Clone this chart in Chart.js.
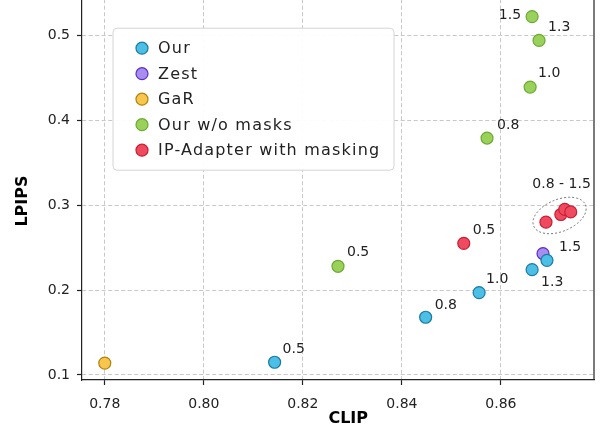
<!DOCTYPE html>
<html>
<head>
<meta charset="utf-8">
<script src="https://cdn.jsdelivr.net/npm/chart.js@4.4.0/dist/chart.umd.min.js"></script>
<style>
  html, body { margin: 0; padding: 0; background: #fff; }
  #wrap { width: 605px; height: 433px; overflow: hidden; }
  #chart { display: block; margin-top: -8px; }
</style>
</head>
<body>
<div id="wrap"><canvas id="chart" width="605" height="441"></canvas></div>
<script>
// tick labels
const xTicks = [0.78, 0.80, 0.82, 0.84, 0.86];
const yTicks = [0.1, 0.2, 0.3, 0.4, 0.5];

// series values (CLIP, LPIPS) and guidance scale labels
const ourClip = [0.8143, 0.8448, 0.8556, 0.8663, 0.8693];
const ourLpips = [0.115, 0.168, 0.197, 0.224, 0.235];
const ourLabels = ['0.5', '0.8', '1.0', '1.3', '1.5'];

const zestClip = [0.8685];
const zestLpips = [0.243];

const garClip = [0.780];
const garLpips = [0.114];

const noMaskClip = [0.8271, 0.8572, 0.8659, 0.8677, 0.8663];
const noMaskLpips = [0.228, 0.379, 0.439, 0.494, 0.522];
const noMaskLabels = ['0.5', '0.8', '1.0', '1.3', '1.5'];

const ipClip = [0.8525, 0.8691, 0.8721, 0.8729, 0.8741];
const ipLpips = [0.255, 0.280, 0.289, 0.295, 0.292];
const ipLabels = ['0.5'];
const ipClusterLabel = '0.8 - 1.5';

const seriesNames = ['Our', 'Zest', 'GaR', 'Our w/o masks', 'IP-Adapter with masking'];
const xTitle = 'CLIP';
const yTitle = 'LPIPS';

// label placement (pixel offsets, [dx, dy, align])
const ourOffsets = [[8, -13, 'left'], [9, -12, 'left'], [7, -13, 'left'], [9, 13, 'left'], [12, -13, 'left']];
const noMaskOffsets = [[9, -14, 'left'], [10, -13, 'left'], [8, -14, 'left'], [9, -13, 'left'], [-11, -1, 'right']];
const ipOffsets = [[9, -13, 'left']];

const FONT = '"DejaVu Sans", sans-serif';

const colors = [
  { fill: '#4cbfe6', border: '#1d7aa1' },  // blue
  { fill: '#a88cf0', border: '#5a30c8' },  // purple
  { fill: '#f8c64c', border: '#b0820e' },  // yellow
  { fill: '#99d15b', border: '#6caa34' },  // green
  { fill: '#f04a5f', border: '#c61f37' }   // red
];

const toPoints = (xs, ys) => xs.map((x, i) => ({ x: x, y: ys[i] }));

const pointSets = [
  toPoints(ourClip, ourLpips),
  toPoints(zestClip, zestLpips),
  toPoints(garClip, garLpips),
  toPoints(noMaskClip, noMaskLpips),
  toPoints(ipClip, ipLpips)
];

const labelSets = [
  { labels: ourLabels, offsets: ourOffsets },
  null,
  null,
  { labels: noMaskLabels, offsets: noMaskOffsets },
  { labels: ipLabels, offsets: ipOffsets }
];

// point labels, ellipse round the IP-Adapter cluster, legend, spine, axis titles
const annotations = {
  id: 'annotations',
  afterDatasetsDraw(chart) {
    const ctx = chart.ctx;
    const area = chart.chartArea;

    ctx.save();
    ctx.font = '14px ' + FONT;
    ctx.fillStyle = '#222';
    ctx.textBaseline = 'middle';
    labelSets.forEach((set, di) => {
      if (!set) return;
      const meta = chart.getDatasetMeta(di);
      set.labels.forEach((txt, i) => {
        const el = meta.data[i];
        const off = set.offsets[i];
        ctx.textAlign = off[2];
        ctx.fillText(txt, el.x + off[0], el.y + off[1]);
      });
    });

    // cluster ellipse
    const ipMeta = chart.getDatasetMeta(4);
    const cluster = ipMeta.data.slice(1);
    const cx = cluster.reduce((s, p) => s + p.x, 0) / cluster.length;
    const cy = cluster.reduce((s, p) => s + p.y, 0) / cluster.length;
    const first = cluster[0], last = cluster[cluster.length - 1];
    const ang = Math.atan2(last.y - first.y, last.x - first.x);
    ctx.beginPath();
    ctx.setLineDash([2, 2]);
    ctx.strokeStyle = '#555';
    ctx.lineWidth = 0.8;
    ctx.ellipse(cx - 1, cy + 1, 28, 16, ang, 0, Math.PI * 2);
    ctx.stroke();
    ctx.setLineDash([]);
    ctx.textAlign = 'center';
    ctx.fillText(ipClusterLabel, cx + 1, cy - 30);

    // right spine
    ctx.beginPath();
    ctx.strokeStyle = '#222';
    ctx.lineWidth = 1.2;
    ctx.moveTo(area.right, area.top);
    ctx.lineTo(area.right, area.bottom);
    ctx.stroke();

    // axis titles
    ctx.fillStyle = '#000';
    ctx.font = 'bold 16px ' + FONT;
    ctx.textAlign = 'center';
    ctx.fillText(xTitle, area.left + (area.right - area.left) * 0.52, area.bottom + 39);
    ctx.save();
    ctx.translate(area.left - 59, area.top + (area.bottom - area.top) * 0.53);
    ctx.rotate(-Math.PI / 2);
    ctx.fillText(yTitle, 0, 0);
    ctx.restore();

    // legend
    const lx = area.left + 31, ly = area.top + 29, lw = 281, lh = 142;
    ctx.beginPath();
    ctx.roundRect(lx, ly, lw, lh, 4);
    ctx.fillStyle = 'rgba(255,255,255,0.95)';
    ctx.fill();
    ctx.strokeStyle = '#d4d4d4';
    ctx.lineWidth = 1;
    ctx.stroke();
    ctx.font = '16px ' + FONT;
    ctx.letterSpacing = '1.2px';
    ctx.textAlign = 'left';
    seriesNames.forEach((name, i) => {
      const y = ly + 20 + i * 25.5;
      ctx.beginPath();
      ctx.arc(lx + 29, y, 6, 0, Math.PI * 2);
      ctx.fillStyle = colors[i].fill;
      ctx.fill();
      ctx.strokeStyle = colors[i].border;
      ctx.lineWidth = 1.2;
      ctx.stroke();
      ctx.fillStyle = '#222';
      ctx.fillText(name, lx + 45, y + 1);
    });
    ctx.restore();
  }
};

const gridOpts = {
  color: '#c8c8c8',
  lineWidth: 1,
  tickColor: '#222',
  tickLength: 5,
  tickWidth: 1.2,
  tickBorderDash: []
};

new Chart(document.getElementById('chart'), {
  type: 'scatter',
  data: {
    datasets: pointSets.map((pts, i) => ({
      label: seriesNames[i],
      data: pts,
      backgroundColor: colors[i].fill,
      borderColor: colors[i].border,
      borderWidth: 1.2,
      pointRadius: 6,
      pointHoverRadius: 6
    }))
  },
  options: {
    responsive: false,
    animation: false,
    layout: { padding: { left: 0, right: 11, top: 0, bottom: 0 } },
    plugins: {
      legend: { display: false },
      tooltip: { enabled: false }
    },
    scales: {
      x: {
        type: 'linear',
        min: 0.7754,
        max: 0.8788,
        afterBuildTicks: (axis) => { axis.ticks = xTicks.map(v => ({ value: v })); },
        afterFit: (axis) => { axis.height = 53; },
        ticks: {
          color: '#222',
          font: { family: FONT, size: 14 },
          padding: 11,
          callback: (v) => v.toFixed(2)
        },
        grid: gridOpts,
        border: { display: true, color: '#222', width: 1.2, dash: [4, 2.5] }
      },
      y: {
        type: 'linear',
        min: 0.0941,
        max: 0.5425,
        afterBuildTicks: (axis) => { axis.ticks = yTicks.map(v => ({ value: v })); },
        afterFit: (axis) => { axis.width = 82; axis.paddingTop = 0; },
        ticks: {
          color: '#222',
          font: { family: FONT, size: 14 },
          padding: 7,
          callback: (v) => v.toFixed(1)
        },
        grid: gridOpts,
        border: { display: true, color: '#222', width: 1.2, dash: [4, 2.5] }
      }
    }
  },
  plugins: [annotations]
});
</script>
</body>
</html>
